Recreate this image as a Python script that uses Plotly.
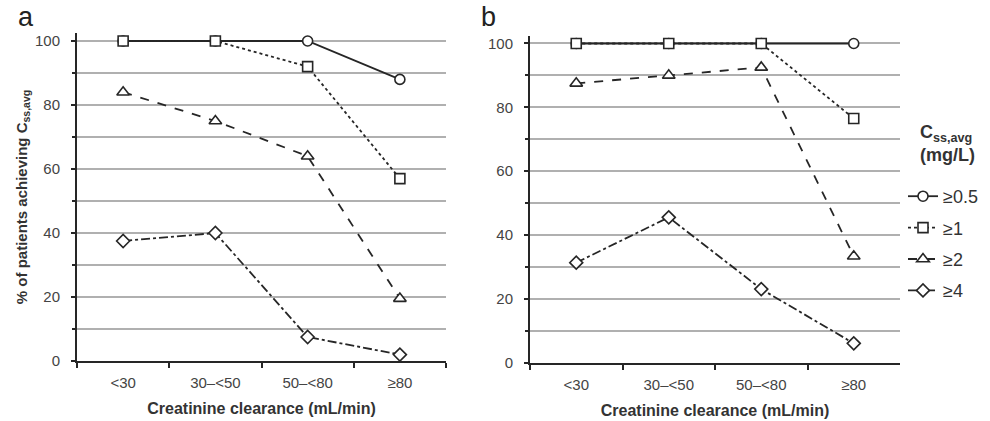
import plotly.graph_objects as go

categories = ["<30", "30\u2013<50", "50\u2013<80", "\u226580"]
series_names = ["\u22650.5", "\u22651", "\u22652", "\u22654"]

# Panel a
a_ge05 = [100, 100, 100, 88]
a_ge1 = [100, 100, 92, 57]
a_ge2 = [84, 75, 64, 19.5]
a_ge4 = [37.5, 40, 7.5, 2]

# Panel b
b_ge05 = [100, 100, 100, 100]
b_ge1 = [100, 100, 100, 76.5]
b_ge2 = [87.5, 90, 92.5, 33.3]
b_ge4 = [31.3, 45.5, 23, 6]

y_ticks = [0, 20, 40, 60, 80, 100]

INK = "#262626"
GRID = "#b0b0b0"
FONT = "Arial, Liberation Sans, sans-serif"

dashes = ["solid", "dot", "dash", "dashdot"]
symbols = ["circle", "square", "triangle-up", "diamond"]
sizes = [10, 10, 11, 10]

fig = go.Figure()

panels = [("x", "y", [a_ge05, a_ge1, a_ge2, a_ge4], False),
          ("x2", "y2", [b_ge05, b_ge1, b_ge2, b_ge4], True)]

for xa, ya, data, show in panels:
    for i, vals in enumerate(data):
        fig.add_trace(go.Scatter(
            x=categories, y=vals, xaxis=xa, yaxis=ya,
            mode="lines+markers", name=series_names[i],
            legendgroup=series_names[i], showlegend=show,
            line=dict(color=INK, width=1.8, dash=dashes[i]),
            marker=dict(symbol=symbols[i], size=sizes[i],
                        color="white", line=dict(color=INK, width=1.6)),
            cliponaxis=False,
        ))

common_x = dict(
    type="category", range=[-0.5, 3.5], showline=True, linecolor=INK, linewidth=2,
    ticks="outside", tickson="boundaries", ticklen=5, tickwidth=2, tickcolor=INK,
    showgrid=False, zeroline=False, automargin=False, ticklabelstandoff=7,
    tickfont=dict(family=FONT, size=15, color="#444"),
    title=dict(text="<b>Creatinine clearance (mL/min)</b>",
               font=dict(family=FONT, size=16, color="#333"), standoff=13),
)
common_y = dict(
    range=[0, 102.5], tickvals=y_ticks, showline=True, linecolor=INK, linewidth=2,
    ticks="outside", ticklen=4, tickwidth=2, tickcolor=INK,
    showgrid=True, gridcolor=GRID, gridwidth=2, zeroline=False, automargin=False,
    ticklabelstandoff=8,
    minor=dict(dtick=10, tick0=0, showgrid=True, gridcolor=GRID, gridwidth=2,
               ticks="outside", ticklen=3, tickwidth=2, tickcolor=INK),
    tickfont=dict(family=FONT, size=15, color="#444"),
)

fig.update_layout(
    width=990, height=421,
    margin=dict(l=0, r=0, t=0, b=0),
    paper_bgcolor="white", plot_bgcolor="white",
    font=dict(family=FONT, color=INK),
    xaxis=dict(domain=[77/990, 446/990], anchor="y", **common_x),
    xaxis2=dict(domain=[530/990, 900/990], anchor="y2", **common_x),
    yaxis=dict(domain=[60/421, 388/421], anchor="x",
               title=dict(text="<b>% of patients achieving C<sub>ss,avg</sub></b>",
                          font=dict(family=FONT, size=15, color="#333"), standoff=4),
               **common_y),
    yaxis2=dict(domain=[58.5/421, 385.5/421], anchor="x2", **common_y),
    legend=dict(x=903/990, xanchor="left", y=(421-178)/421, yanchor="top",
                font=dict(family=FONT, size=18, color="#333"),
                tracegroupgap=5, bgcolor="rgba(0,0,0,0)", itemwidth=30),
    showlegend=True,
    annotations=[
        dict(text="a", x=16/990, y=1.0, xref="paper", yref="paper", xanchor="left",
             yanchor="top", showarrow=False, font=dict(family=FONT, size=27, color="#222")),
        dict(text="b", x=479/990, y=1.0, xref="paper", yref="paper", xanchor="left",
             yanchor="top", showarrow=False, font=dict(family=FONT, size=27, color="#222")),
        dict(text="<b>C<sub>ss,avg</sub><br>(mg/L)</b>", x=947/990, y=(421-120)/421,
             xref="paper", yref="paper", xanchor="center", yanchor="top", align="left",
             showarrow=False, font=dict(family=FONT, size=18, color="#333")),
    ],
)

fig.write_html("out.html")
